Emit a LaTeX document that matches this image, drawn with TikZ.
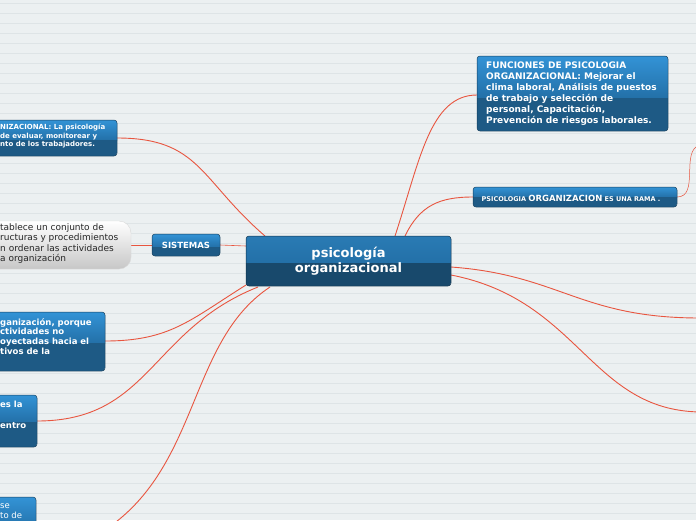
\documentclass[tikz,border=0pt]{standalone}
\usepackage{fontspec}
\setmainfont{DejaVu Sans}
\begin{document}
\begin{tikzpicture}[x=1pt,y=-1pt,
  box/.style={rounded corners=3pt,draw=black!35,line width=0.4pt},
  wt/.style={text=white,font=\bfseries,inner sep=0pt,anchor=north west,align=left},
  con/.style={draw=red!70!orange,line width=0.9pt},
  top/.style={top color=blue!50!cyan!70!black,bottom color=blue!40!cyan!55!black}]
\definecolor{bg}{HTML}{ECF0F1}\definecolor{bgl}{HTML}{DEE4E6}
\definecolor{bt}{HTML}{3393D6}\definecolor{bm}{HTML}{2370A8}\definecolor{bb}{HTML}{1E5A85}
\definecolor{ct}{HTML}{2A7BB4}\definecolor{cb}{HTML}{18496C}\definecolor{lk}{HTML}{E8553F}
\tikzset{con/.style={draw=lk,line width=0.9pt}}
\useasboundingbox (0,0) rectangle (696,520);
\clip (0,0) rectangle (696,520);
\fill[bg] (0,0) rectangle (696,520);
\foreach \y in {3,13,...,520} \draw[bgl,line width=0.4pt] (0,\y) -- (696,\y);
% box macro: upper light gradient, lower dark
\newcommand{\mybox}[5]{% x1 y1 x2 y2 mid
  \begin{scope}
  \clip[rounded corners=3pt] (#1,#2) rectangle (#3,#4);
  \shade[top color=bt,bottom color=bm] (#1,#2) rectangle (#3,#5);
  \fill[bb] (#1,#5) rectangle (#3,#4);
  \end{scope}
  \draw[rounded corners=3pt,draw=bb!70!black,line width=0.5pt] (#1,#2) rectangle (#3,#4);}
% connectors first
\coordinate (c1) at (265,236); \coordinate (c2) at (395,236); \coordinate (c3) at (405,236);
\coordinate (c4) at (246,246); \coordinate (c5) at (246,285); \coordinate (c6) at (258,287);
\coordinate (c7) at (270,287); \coordinate (c8) at (451,267); \coordinate (c9) at (451,275);
\coordinate (tl) at (117,138); \coordinate (fn) at (477,95); \coordinate (ps) at (473,197);
\coordinate (psr) at (677,197); \coordinate (e1) at (700,145);
\coordinate (si) at (220,245); \coordinate (sil) at (152,245); \coordinate (wb) at (131,245);
\coordinate (b3) at (105,341); \coordinate (b4) at (37,421); \coordinate (e2) at (112,525);
\coordinate (e3) at (700,318); \coordinate (e4) at (700,412);
\draw[con] (c1) .. controls (200,180) and (200,138) .. (tl);
\draw[con] (c2) .. controls (420,160) and (430,95) .. (fn);
\draw[con] (c3) .. controls (420,205) and (440,197) .. (ps);
\draw[con,line width=0.5pt] (psr) .. controls (700,197) and (680,150) .. (e1);
\draw[con,line width=0.6pt] (c4) -- (si);
\draw[con,line width=0.6pt] (sil) -- (wb);
\draw[con] (c5) .. controls (190,320) and (170,341) .. (b3);
\draw[con] (c6) .. controls (150,330) and (150,421) .. (b4);
\draw[con] (c7) .. controls (190,340) and (200,460) .. (e2);
\draw[con] (c8) .. controls (560,275) and (580,318) .. (e3);
\draw[con] (c9) .. controls (580,300) and (590,410) .. (e4);
% center
\begin{scope}
\clip[rounded corners=3pt] (246,236) rectangle (451,286);
\shade[top color=ct,bottom color=bm] (246,236) rectangle (451,263);
\fill[cb] (246,263) rectangle (451,286);
\end{scope}
\draw[rounded corners=3pt,draw=cb!70!black,line width=0.5pt] (246,236) rectangle (451,286);
\node[text=white,font=\bfseries\fontsize{13}{15}\selectfont,align=center] (center) at (348.5,261) {psicología\\organizacional};
% functions
\mybox{477}{56}{668}{131}{98}
\node[wt,font=\bfseries\fontsize{9}{11}\selectfont] (fun) at (486,62) {FUNCIONES DE PSICOLOGIA\\ORGANIZACIONAL: Mejorar el\\clima laboral, Análisis de puestos\\de trabajo y selección de\\personal, Capacitación,\\Prevención de riesgos laborales.};
% psicologia organizacion
\mybox{473}{187}{677}{207}{197}
\node[text=white,font=\bfseries\fontsize{6.5}{8}\selectfont] (psi) at (571,198) {PSICOLOGIA {\fontsize{8.5}{8}\selectfont ORGANIZACION} ES UNA RAMA .};
% top-left
\mybox{-10}{120}{117}{156}{140}
\node[wt,font=\bfseries\fontsize{7}{8.5}\selectfont] (tlt) at (0,124) {NIZACIONAL: La psicología\\de evaluar, monitorear y\\nto de los trabajadores.};
% sistemas
\mybox{152}{234}{220}{256}{247}
\node[text=white,font=\bfseries\fontsize{8.5}{10}\selectfont] (sis) at (186,245.5) {SISTEMAS};
% white box
\shade[rounded corners=12pt,top color=white,bottom color=black!22,draw=black!15] (-20,221) rectangle (131,269);
\node[inner sep=0pt,anchor=north west,align=left,text=black!85,font=\fontsize{9}{10.6}\selectfont] (wtx) at (0,223) {tablece un conjunto de\\ructuras y procedimientos\\n ordenar las actividades\\a organización};
% box3
\mybox{-10}{312}{105}{371}{343}
\node[wt,font=\bfseries\fontsize{8.5}{9.8}\selectfont] (b3t) at (0,318) {ganización, porque\\ctividades no\\oyectadas hacia el\\tivos de la};
% box4
\mybox{-10}{395}{37}{447}{422}
\node[wt,font=\bfseries\fontsize{8.5}{10.3}\selectfont] (b4t) at (0,401) {es la\\\\entro};
% box5
\mybox{-10}{497}{36}{540}{530}
\node[wt,font=\fontsize{8.5}{10}\selectfont] (b5t) at (0,504) {se\\to de};
\end{tikzpicture}
\end{document}
